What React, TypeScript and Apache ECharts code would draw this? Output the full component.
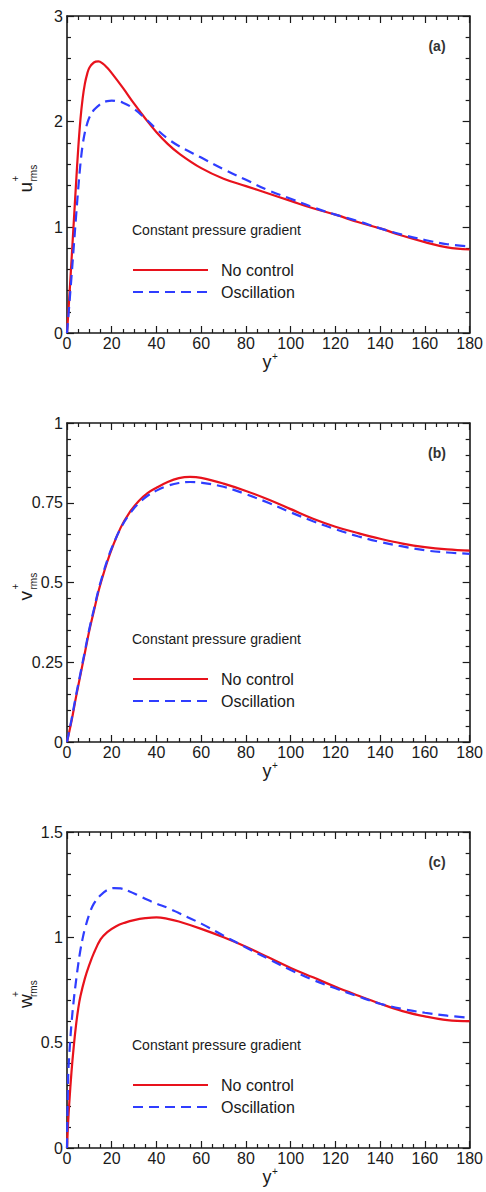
import React, { useEffect, useRef } from "react";
import * as echarts from "echarts";

// ---------- data ----------
const seriesNames = ["No control", "Oscillation"];
const panelLetters = ["(a)", "(b)", "(c)"];
const panelSymbols = ["u", "v", "w"];
const noteText = "Constant pressure gradient";
const xTicks = [0, 20, 40, 60, 80, 100, 120, 140, 160, 180];

// (a) u+rms
const aRedX = [0, 1, 2, 3, 4, 5, 6, 7, 8, 9, 10, 12, 14, 16, 18, 20, 25, 30, 35, 40, 45, 50, 60, 70, 80, 90, 100, 110, 120, 130, 140, 150, 160, 170, 180];
const aRedY = [0, 0.33, 0.68, 1.04, 1.4, 1.74, 2.02, 2.22, 2.36, 2.45, 2.51, 2.56, 2.57, 2.55, 2.51, 2.46, 2.32, 2.17, 2.03, 1.9, 1.79, 1.7, 1.56, 1.46, 1.39, 1.32, 1.25, 1.18, 1.12, 1.05, 0.99, 0.92, 0.86, 0.81, 0.79];
const aBlueX = [0, 1, 2, 3, 4, 5, 6, 7, 8, 9, 10, 12, 14, 16, 18, 20, 22, 25, 30, 35, 40, 45, 50, 60, 70, 80, 90, 100, 110, 120, 130, 140, 150, 160, 170, 180];
const aBlueY = [0, 0.26, 0.53, 0.81, 1.09, 1.36, 1.6, 1.78, 1.9, 1.98, 2.04, 2.11, 2.15, 2.18, 2.195, 2.2, 2.195, 2.18, 2.12, 2.03, 1.93, 1.84, 1.77, 1.66, 1.55, 1.45, 1.35, 1.27, 1.19, 1.12, 1.06, 0.99, 0.93, 0.88, 0.84, 0.82];

// (b) v+rms
const bX = [0, 2, 4, 6, 8, 10, 12, 14, 16, 18, 20, 24, 28, 32, 36, 40, 45, 50, 55, 60, 70, 80, 90, 100, 110, 120, 130, 140, 150, 160, 170, 180];
const bRedY = [0, 0.065, 0.14, 0.21, 0.28, 0.35, 0.41, 0.47, 0.52, 0.565, 0.605, 0.672, 0.72, 0.755, 0.78, 0.797, 0.815, 0.827, 0.831, 0.828, 0.81, 0.787, 0.76, 0.73, 0.7, 0.675, 0.655, 0.637, 0.622, 0.611, 0.604, 0.6];
const bBlueY = [0, 0.07, 0.145, 0.215, 0.285, 0.355, 0.415, 0.475, 0.525, 0.57, 0.608, 0.67, 0.715, 0.748, 0.772, 0.788, 0.803, 0.812, 0.815, 0.813, 0.8, 0.777, 0.75, 0.72, 0.692, 0.667, 0.645, 0.627, 0.613, 0.601, 0.594, 0.59];

// (c) w+rms
const cRedX = [0, 0.5, 1, 2, 3, 4, 5, 6, 8, 10, 12, 15, 18, 22, 26, 30, 35, 40, 45, 50, 60, 70, 80, 90, 100, 110, 120, 130, 140, 150, 160, 170, 180];
const cRedY = [0, 0.12, 0.21, 0.36, 0.48, 0.58, 0.66, 0.72, 0.805, 0.87, 0.925, 0.99, 1.025, 1.053, 1.07, 1.082, 1.091, 1.095, 1.088, 1.075, 1.04, 1.0, 0.955, 0.905, 0.855, 0.81, 0.765, 0.724, 0.685, 0.65, 0.625, 0.607, 0.602];
const cBlueX = [0, 0.5, 1, 2, 3, 4, 5, 6, 7, 8, 10, 12, 15, 18, 21, 24, 28, 32, 36, 40, 45, 50, 60, 70, 80, 90, 100, 110, 120, 130, 140, 150, 160, 170, 180];
const cBlueY = [0, 0.33, 0.44, 0.59, 0.7, 0.79, 0.87, 0.94, 0.995, 1.04, 1.11, 1.16, 1.2, 1.225, 1.234, 1.232, 1.218, 1.198, 1.178, 1.16, 1.14, 1.115, 1.065, 1.008, 0.952, 0.898, 0.845, 0.798, 0.758, 0.72, 0.685, 0.66, 0.642, 0.628, 0.618];

const yMaxes = [3, 1, 1.5];
const yIntervals = [1, 0.25, 0.5];

// ---------- styling / layout ----------
const FONT = '"Liberation Sans", Arial, Helvetica, sans-serif';
const INK = "#1a1a1a";
const RED = "#e8121c";
const BLUE = "#2f3dff";
const GRID_LEFT = 67;
const GRID_WIDTH = 404;
const GRID_TOPS = [16, 423, 832];
const GRID_HEIGHTS = [317, 319, 316];

const zip = (xs: number[], ys: number[]) => xs.map((x, i) => [x, ys[i]]);

function buildOption() {
  const panelData = [
    [zip(aRedX, aRedY), zip(aBlueX, aBlueY)],
    [zip(bX, bRedY), zip(bX, bBlueY)],
    [zip(cRedX, cRedY), zip(cBlueX, cBlueY)],
  ];

  const grid: any[] = [];
  const xAxis: any[] = [];
  const yAxis: any[] = [];
  const series: any[] = [];
  const legend: any[] = [];
  const graphic: any[] = [];

  const lineStyle = { color: INK, width: 1.6 };
  const tickStyle = { color: INK, width: 1.2 };

  for (let i = 0; i < 3; i++) {
    const top = GRID_TOPS[i];
    const h = GRID_HEIGHTS[i];
    const bottom = top + h;
    grid.push({ left: GRID_LEFT, top, width: GRID_WIDTH, height: h, containLabel: false });

    const xBase = {
      gridIndex: i,
      type: "value",
      min: xTicks[0],
      max: xTicks[xTicks.length - 1],
      interval: xTicks[1] - xTicks[0],
      axisLine: { show: true, onZero: false, lineStyle },
      axisTick: { show: true, inside: true, length: 7, lineStyle: tickStyle },
      minorTick: { show: true, splitNumber: 4, length: 4, lineStyle: tickStyle },
      splitLine: { show: false },
    };
    xAxis.push({
      ...xBase,
      position: "bottom",
      axisLabel: { fontSize: 16, color: INK, margin: 2, fontFamily: FONT },
    });
    xAxis.push({ ...xBase, position: "top", axisLabel: { show: false } });

    const yBase = {
      gridIndex: i,
      type: "value",
      min: 0,
      max: yMaxes[i],
      interval: yIntervals[i],
      axisLine: { show: true, onZero: false, lineStyle },
      axisTick: { show: true, inside: true, length: 7, lineStyle: tickStyle },
      minorTick: { show: true, splitNumber: 5, length: 4, lineStyle: tickStyle },
      splitLine: { show: false },
    };
    yAxis.push({
      ...yBase,
      position: "left",
      axisLabel: { fontSize: 16, color: INK, margin: 4, fontFamily: FONT },
    });
    yAxis.push({ ...yBase, position: "right", axisLabel: { show: false } });

    const [red, blue] = panelData[i];
    series.push({
      name: seriesNames[0],
      type: "line",
      xAxisIndex: 2 * i,
      yAxisIndex: 2 * i,
      data: red,
      showSymbol: false,
      symbol: "none",
      smooth: 0.4,
      lineStyle: { color: RED, width: 2.2, type: "solid" },
      itemStyle: { color: RED },
      z: 3,
    });
    series.push({
      name: seriesNames[1],
      type: "line",
      xAxisIndex: 2 * i,
      yAxisIndex: 2 * i,
      data: blue,
      showSymbol: false,
      symbol: "none",
      smooth: 0.4,
      lineStyle: { color: BLUE, width: 2.2, type: [10, 6] },
      itemStyle: { color: BLUE },
      z: 4,
    });

    legend.push({
      data: seriesNames,
      orient: "vertical",
      left: 127,
      top: bottom - 63 - 8 - 5,
      itemWidth: 75,
      itemHeight: 14,
      itemGap: 6,
      selectedMode: false,
      itemStyle: { opacity: 0 },
      textStyle: { fontSize: 16, color: INK, fontFamily: FONT, padding: [0, 0, 0, 8] },
    });

    // panel letter
    graphic.push({
      type: "text",
      x: 437,
      y: top + 30,
      style: {
        text: panelLetters[i],
        fontSize: 14,
        fontWeight: "bold",
        fontFamily: FONT,
        fill: "#333",
        align: "center",
        verticalAlign: "middle",
      },
    });
    // note
    graphic.push({
      type: "text",
      x: 132,
      y: bottom - 103,
      style: {
        text: noteText,
        fontSize: 14,
        fontFamily: FONT,
        fill: INK,
        align: "left",
        verticalAlign: "middle",
      },
    });
    // x-axis name y+
    graphic.push({
      type: "group",
      x: 267,
      y: bottom + 29,
      children: [
        {
          type: "text",
          x: 0,
          y: 0,
          style: { text: "y", fontSize: 18, fontFamily: FONT, fill: INK, align: "center", verticalAlign: "middle" },
        },
        {
          type: "text",
          x: 5,
          y: -6,
          style: { text: "+", fontSize: 10, fontFamily: FONT, fill: INK, align: "left", verticalAlign: "middle" },
        },
      ],
    });
    // y-axis name (rotated)
    const cy = top + h / 2 + 3;
    graphic.push({
      type: "group",
      x: 25,
      y: cy,
      rotation: Math.PI / 2,
      children: [
        {
          type: "text",
          x: -15,
          y: 0,
          style: { text: panelSymbols[i], fontSize: 19, fontFamily: FONT, fill: INK, align: "left", verticalAlign: "middle" },
        },
        {
          type: "text",
          x: -4,
          y: -10,
          style: { text: "+", fontSize: 10, fontFamily: FONT, fill: INK, align: "left", verticalAlign: "middle" },
        },
        {
          type: "text",
          x: -4,
          y: 8,
          style: { text: "rms", fontSize: 10, fontFamily: FONT, fill: INK, align: "left", verticalAlign: "middle" },
        },
      ],
    });
  }

  return {
    animation: false,
    backgroundColor: "#ffffff",
    textStyle: { fontFamily: FONT },
    grid,
    xAxis,
    yAxis,
    series,
    legend,
    graphic,
  };
}

export default function App() {
  const ref = useRef<HTMLDivElement>(null);
  useEffect(() => {
    if (!ref.current) return;
    const chart = echarts.init(ref.current, undefined, { renderer: "svg" });
    chart.setOption(buildOption() as any);
    return () => chart.dispose();
  }, []);
  return (
    <div
      ref={ref}
      style={{ position: "absolute", left: 0, top: 0, width: 486, height: 1192, background: "#fff" }}
    />
  );
}
